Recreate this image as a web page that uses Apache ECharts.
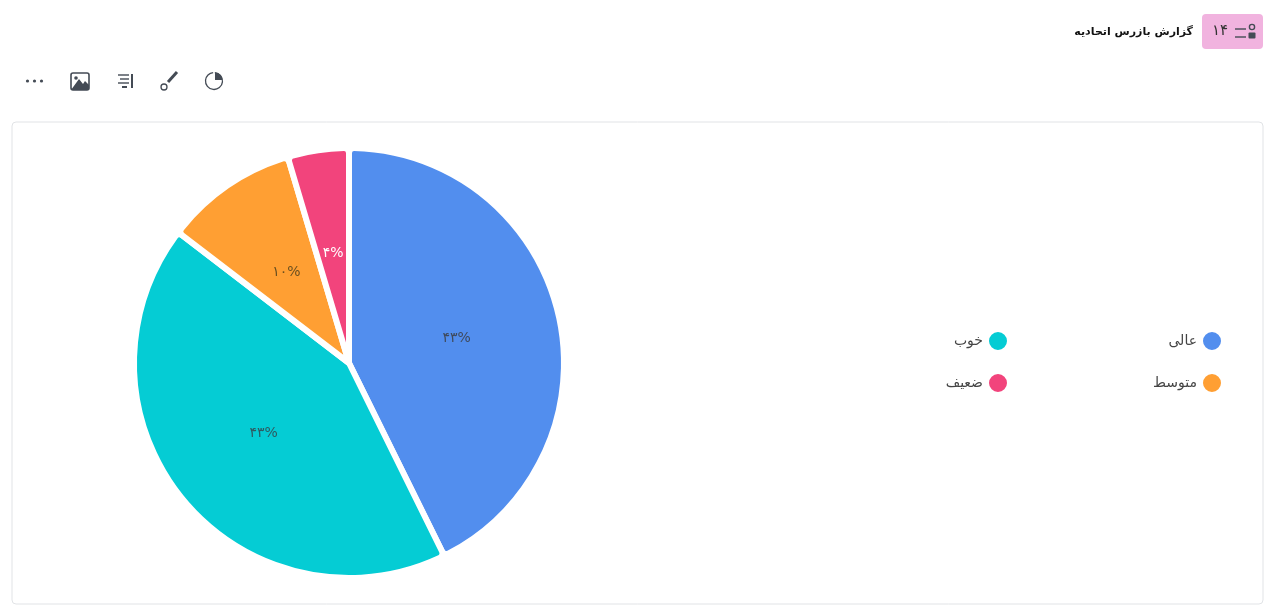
<!DOCTYPE html>
<html><head><meta charset="utf-8">
<style>html,body{margin:0;padding:0;background:#fff}#c{width:1280px;height:614px}</style>
<script src="https://cdn.jsdelivr.net/npm/echarts@6/dist/echarts.min.js"></script>
</head><body><div id="c"></div>
<script>
const categories = ['عالی','خوب','متوسط','ضعیف'];
const values = [42.7,42.7,10,4.6];
const valueLabels = ['۴۳%','۴۳%','۱۰%','۴%'];
const colors = ['#528EEE','#05CCD4','#FF9F33','#F2447C'];
const labelColors = ['#3f4a5c','#2f5a60','#6b5020','#fff'];
const titleText = 'گزارش بازرس اتحادیه';
const badgeText = '۱۴';
const font = '"DejaVu Sans","Noto Sans",sans-serif';
const ic = '#444B55';
const chart = echarts.init(document.getElementById('c'));
const line=(x1,y1,x2,y2,w=1.4,c=ic)=>({type:'line',shape:{x1,y1,x2,y2},style:{stroke:c,lineWidth:w}});
const legendBase={orient:'vertical',top:325,align:'right',icon:'circle',itemWidth:20,itemHeight:20,itemGap:20,selectedMode:false,textStyle:{fontFamily:font,fontSize:14,color:'#444'}};
chart.setOption({
  animation:false,
  legend:[
    {...legendBase,data:[categories[0],categories[2]],right:52},
    {...legendBase,data:[categories[1],categories[3]],right:266}
  ],
  graphic:[
    {type:'rect',z:-1,shape:{x:12,y:122,width:1251,height:482,r:4},style:{fill:'#fff',stroke:'#e1e3e6',lineWidth:1}},
    {type:'rect',shape:{x:1202,y:14,width:61,height:35,r:4},style:{fill:'#F1B3DF'}},
    {type:'text',x:1220,y:31,style:{text:badgeText,fontFamily:font,fontSize:15,fill:'#333',align:'center',verticalAlign:'middle'}},
    line(1235,29,1246,29),line(1235,37,1246,37),
    {type:'circle',shape:{cx:1252,cy:27,r:2.6},style:{fill:'none',stroke:ic,lineWidth:1.4}},
    {type:'rect',shape:{x:1248.5,y:32.5,width:7,height:6,r:1},style:{fill:ic}},
    {type:'text',x:1193,y:32,style:{text:titleText,fontFamily:font,fontSize:11,fontWeight:'bold',fill:'#111',align:'right',verticalAlign:'middle'}},
    // toolbar icons
    {type:'circle',shape:{cx:27.5,cy:81,r:1.6},style:{fill:ic}},
    {type:'circle',shape:{cx:34.5,cy:81,r:1.6},style:{fill:ic}},
    {type:'circle',shape:{cx:41.5,cy:81,r:1.6},style:{fill:ic}},
    {type:'rect',shape:{x:71,y:73,width:18,height:17,r:2},style:{fill:'#fff',stroke:ic,lineWidth:1.6}},
    {type:'polygon',shape:{points:[[71,90],[79,79],[83,84],[85,81],[89,85],[89,90]]},style:{fill:ic}},
    {type:'circle',shape:{cx:76,cy:78,r:1.8},style:{fill:ic}},
    line(132,74,132,88,2),line(118,75,129,75),line(120,79,129,79),line(118,83,129,83),line(122,87,127,87,2),
    line(177,72,168,82,3),
    {type:'circle',shape:{cx:164,cy:87,r:3},style:{fill:'#fff',stroke:ic,lineWidth:1.3}},
    {type:'arc',shape:{cx:214,cy:81,r:8.5,startAngle:-Math.PI/2+0.1,endAngle:Math.PI*1.5-0.1,clockwise:true},style:{stroke:ic,fill:'none',lineWidth:1.3}},
    {type:'sector',shape:{cx:215,cy:80,r:7.5,r0:0,startAngle:-Math.PI/2,endAngle:0},style:{fill:ic}}
  ],
  series:[{
    type:'pie',
    center:[349,363],
    radius:[0,215],
    startAngle:90,
    clockwise:true,
    silent:true,
    label:{show:true,position:'inside',fontFamily:font,fontSize:14},
    labelLine:{show:false},
    itemStyle:{borderColor:'#fff',borderWidth:6,borderRadius:5},
    data:categories.map((name,i)=>({name,value:values[i],
      itemStyle:{color:colors[i]},
      label:{formatter:valueLabels[i],color:labelColors[i]}}))
  }]
});
</script></body></html>
